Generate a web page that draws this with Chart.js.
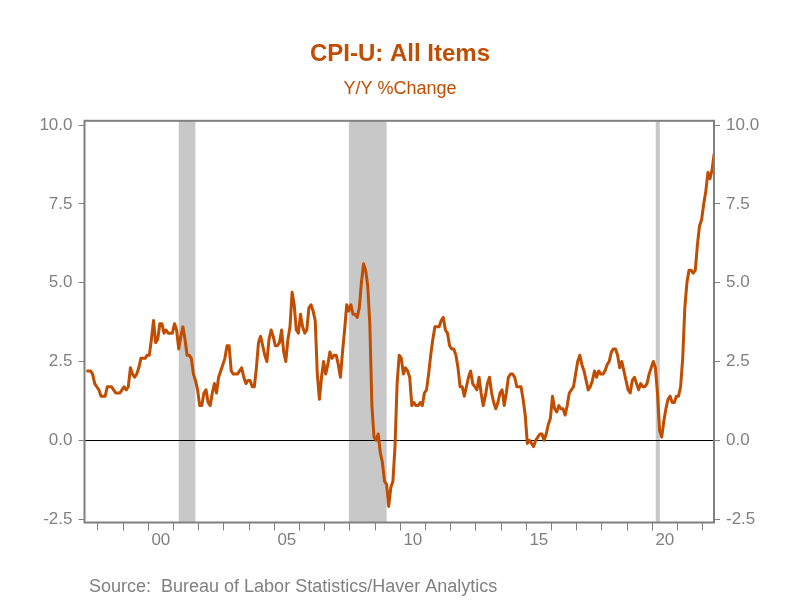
<!DOCTYPE html>
<html>
<head>
<meta charset="utf-8">
<title>CPI-U: All Items</title>
<script src="https://cdn.jsdelivr.net/npm/chart.js@4.4.1/dist/chart.umd.min.js"></script>
<style>
    html, body { margin: 0; padding: 0; background: #ffffff; }
    #wrap { width: 800px; height: 600px; }
</style>
</head>
<body>
<div id="wrap"><canvas id="cpiChart" width="800" height="600"></canvas></div>
<script>
// CPI-U all items, Y/Y % change, monthly from Jul 1997 to Jun 2022
const startYear = 1997;
const startMonth = 7;
const cpiYoY = [
    2.2, 2.2, 2.2, 2.1, 1.8, 1.7,                               // 1997 (Jul-Dec)
    1.6, 1.4, 1.4, 1.4, 1.7, 1.7, 1.7, 1.6, 1.5, 1.5, 1.5, 1.6, // 1998
    1.7, 1.6, 1.7, 2.3, 2.1, 2.0, 2.1, 2.3, 2.6, 2.6, 2.6, 2.7, // 1999
    2.7, 3.2, 3.8, 3.1, 3.2, 3.7, 3.7, 3.4, 3.5, 3.4, 3.4, 3.4, // 2000
    3.7, 3.5, 2.9, 3.3, 3.6, 3.2, 2.7, 2.7, 2.6, 2.1, 1.9, 1.6, // 2001
    1.1, 1.1, 1.5, 1.6, 1.2, 1.1, 1.5, 1.8, 1.5, 2.0, 2.2, 2.4, // 2002
    2.6, 3.0, 3.0, 2.2, 2.1, 2.1, 2.1, 2.2, 2.3, 2.0, 1.8, 1.9, // 2003
    1.9, 1.7, 1.7, 2.3, 3.1, 3.3, 3.0, 2.7, 2.5, 3.2, 3.5, 3.3, // 2004
    3.0, 3.0, 3.1, 3.5, 2.8, 2.5, 3.2, 3.6, 4.7, 4.3, 3.5, 3.4, // 2005
    4.0, 3.6, 3.4, 3.5, 4.2, 4.3, 4.1, 3.8, 2.1, 1.3, 2.0, 2.5, // 2006
    2.1, 2.4, 2.8, 2.6, 2.7, 2.7, 2.4, 2.0, 2.8, 3.5, 4.3, 4.1, // 2007
    4.3, 4.0, 4.0, 3.9, 4.2, 5.0, 5.6, 5.4, 4.9, 3.7, 1.1, 0.1, // 2008
    0.0, 0.2, -0.4, -0.7, -1.3, -1.4, -2.1, -1.5, -1.3, -0.2, 1.8, 2.7, // 2009
    2.6, 2.1, 2.3, 2.2, 2.0, 1.1, 1.2, 1.1, 1.1, 1.2, 1.1, 1.5, // 2010
    1.6, 2.1, 2.7, 3.2, 3.6, 3.6, 3.6, 3.8, 3.9, 3.5, 3.4, 3.0, // 2011
    2.9, 2.9, 2.7, 2.3, 1.7, 1.7, 1.4, 1.7, 2.0, 2.2, 1.8, 1.7, // 2012
    1.6, 2.0, 1.5, 1.1, 1.4, 1.8, 2.0, 1.5, 1.2, 1.0, 1.2, 1.5, // 2013
    1.6, 1.1, 1.5, 2.0, 2.1, 2.1, 2.0, 1.7, 1.7, 1.7, 1.3, 0.8, // 2014
    -0.1, 0.0, -0.1, -0.2, 0.0, 0.1, 0.2, 0.2, 0.0, 0.2, 0.5, 0.7, // 2015
    1.4, 1.0, 0.9, 1.1, 1.0, 1.0, 0.8, 1.1, 1.5, 1.6, 1.7, 2.1, // 2016
    2.5, 2.7, 2.4, 2.2, 1.9, 1.6, 1.7, 1.9, 2.2, 2.0, 2.2, 2.1, // 2017
    2.1, 2.2, 2.4, 2.5, 2.8, 2.9, 2.9, 2.7, 2.3, 2.5, 2.2, 1.9, // 2018
    1.6, 1.5, 1.9, 2.0, 1.8, 1.6, 1.8, 1.7, 1.7, 1.8, 2.1, 2.3, // 2019
    2.5, 2.3, 1.5, 0.3, 0.1, 0.6, 1.0, 1.3, 1.4, 1.2, 1.2, 1.4, // 2020
    1.4, 1.7, 2.6, 4.2, 5.0, 5.4, 5.4, 5.3, 5.4, 6.2, 6.8, 7.0, // 2021
    7.5, 7.9, 8.5, 8.3, 8.6, 9.1                                // 2022 (Jan-Jun)
];

// NBER recessions (peak, trough) in decimal years
const recessions = [
    [2001.21, 2001.87],
    [2007.96, 2009.46],
    [2020.14, 2020.30]
];

// x axis: tick marks at each January, labels centred on the year
const yearTicks = [1998, 1999, 2000, 2001, 2002, 2003, 2004, 2005, 2006, 2007, 2008, 2009, 2010,
    2011, 2012, 2013, 2014, 2015, 2016, 2017, 2018, 2019, 2020, 2021, 2022];
const labelYears = [2000, 2005, 2010, 2015, 2020];
const yearLabels = ['00', '05', '10', '15', '20'];
const xMin = 1997.47;
const xMax = 2022.45;

// y axis: the frame runs a little past the outer ticks
const yTicks = [-2.5, 0.0, 2.5, 5.0, 7.5, 10.0];
const yMin = -2.61;
const yMax = 10.14;

const accent = '#C04D00';
const gray = '#808080';
const fontFamily = '"Liberation Sans", Arial, Helvetica, sans-serif';

const points = cpiYoY.map((v, i) => ({
    x: startYear + (startMonth - 1 + i + 0.5) / 12,
    y: v
}));

const recessionShading = {
    id: 'recessionShading',
    beforeDraw(chart) {
        const { ctx, chartArea, scales } = chart;
        ctx.save();
        ctx.fillStyle = '#C8C8C8';
        recessions.forEach(([from, to]) => {
            const x1 = scales.x.getPixelForValue(from);
            const x2 = scales.x.getPixelForValue(to);
            ctx.fillRect(x1, chartArea.top, x2 - x1, chartArea.bottom - chartArea.top);
        });
        ctx.restore();
    }
};

const plotFrame = {
    id: 'plotFrame',
    afterDatasetsDraw(chart) {
        const { ctx, chartArea } = chart;
        ctx.save();
        ctx.strokeStyle = gray;
        ctx.lineWidth = 2;
        ctx.strokeRect(chartArea.left, chartArea.top,
            chartArea.right - chartArea.left, chartArea.bottom - chartArea.top);
        ctx.restore();
    }
};

const sourceNote = {
    id: 'sourceNote',
    afterDraw(chart) {
        const { ctx } = chart;
        ctx.save();
        ctx.fillStyle = gray;
        ctx.font = '18px ' + fontFamily;
        ctx.textAlign = 'left';
        ctx.textBaseline = 'middle';
        ctx.fillText('Source:  Bureau of Labor Statistics/Haver Analytics', 89, 587);
        ctx.restore();
    }
};

const yTickLabel = (value) => Number(value).toFixed(1);
const setYTicks = (scale) => {
    scale.ticks = yTicks.map(v => ({ value: v }));
};

new Chart(document.getElementById('cpiChart'), {
    type: 'line',
    data: {
        datasets: [{
            label: 'CPI-U: All Items',
            data: points,
            xAxisID: 'x',
            yAxisID: 'y',
            borderColor: accent,
            borderWidth: 3,
            borderJoinStyle: 'round',
            pointRadius: 0,
            fill: false,
            tension: 0
        }]
    },
    options: {
        responsive: false,
        animation: false,
        layout: { padding: 0 },
        plugins: {
            legend: { display: false },
            tooltip: { enabled: false },
            title: {
                display: true,
                text: 'CPI-U: All Items',
                color: accent,
                font: { family: fontFamily, size: 24, weight: 'bold' },
                padding: { top: 39.6, bottom: 9.8 }
            },
            subtitle: {
                display: true,
                text: 'Y/Y %Change',
                color: accent,
                font: { family: fontFamily, size: 18 },
                padding: { top: 0, bottom: 21.0 }
            }
        },
        scales: {
            x: {
                type: 'linear',
                position: 'bottom',
                weight: 1,
                min: xMin,
                max: xMax,
                afterBuildTicks: (scale) => {
                    scale.ticks = yearTicks.map(v => ({ value: v }));
                },
                afterFit: (scale) => { scale.height = 8; },
                ticks: { display: false },
                grid: {
                    display: true,
                    drawOnChartArea: false,
                    drawTicks: true,
                    tickLength: 8,
                    color: gray,
                    lineWidth: 1
                },
                border: { display: false }
            },
            xLabels: {
                type: 'linear',
                position: 'bottom',
                weight: 2,
                min: xMin,
                max: xMax,
                afterBuildTicks: (scale) => {
                    scale.ticks = labelYears.map(v => ({ value: v + 0.5 }));
                },
                afterFit: (scale) => { scale.height = 69.5; },
                ticks: {
                    padding: 0,
                    color: gray,
                    font: { family: fontFamily, size: 17 },
                    maxRotation: 0,
                    autoSkip: false,
                    callback: (value, index) => yearLabels[index]
                },
                grid: { display: false, drawTicks: false },
                border: { display: false }
            },
            y: {
                position: 'left',
                min: yMin,
                max: yMax,
                afterBuildTicks: setYTicks,
                afterFit: (scale) => { scale.width = 84.5; },
                ticks: {
                    padding: 6,
                    color: gray,
                    font: { family: fontFamily, size: 17 },
                    callback: yTickLabel
                },
                grid: {
                    drawOnChartArea: true,
                    drawTicks: true,
                    tickLength: 6,
                    tickColor: gray,
                    lineWidth: 1,
                    color: (ctx) => (ctx.tick && ctx.tick.value === 0 ? '#000000' : 'rgba(0,0,0,0)')
                },
                border: { display: false }
            },
            y2: {
                position: 'right',
                min: yMin,
                max: yMax,
                afterBuildTicks: setYTicks,
                afterFit: (scale) => { scale.width = 86; },
                ticks: {
                    padding: 6,
                    color: gray,
                    font: { family: fontFamily, size: 17 },
                    callback: yTickLabel
                },
                grid: {
                    drawOnChartArea: false,
                    drawTicks: true,
                    tickLength: 6,
                    color: gray,
                    lineWidth: 1
                },
                border: { display: false }
            }
        }
    },
    plugins: [recessionShading, plotFrame, sourceNote]
});
</script>
</body>
</html>
